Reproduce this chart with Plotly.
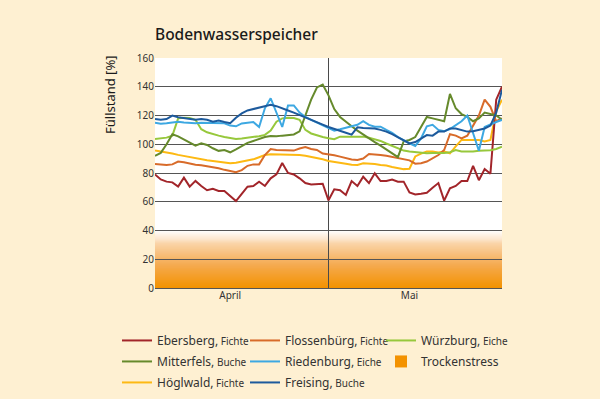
import plotly.graph_objects as go

# ---------------- data ----------------
# day index: 0 = 1 April ... 30 = 1 May ... 60 = 31 May
tage = list(range(61))
monatsgrenze = 30
monat_labels = ["April", "Mai"]
monat_label_pos = [13, 44]

ebersberg = [79, 75.5, 74, 73.5, 70.5, 76.8, 70.5, 74.5, 71, 68,
             69, 67.5, 67.5, 64, 60.5, 65.5, 70.5, 71, 73.9, 71,
             76.3, 79, 87, 80, 79, 76.3, 73, 72, 72, 72.5,
             61, 68.7, 68, 64.7, 74.4, 71, 77.4, 73, 79.8, 74.4,
             74.4, 75.5, 74, 74, 66.5, 65, 65.6, 66.3, 69.8, 73,
             60.8, 69.3, 71, 74.4, 74.4, 85, 75, 82.8, 79.5, 131, 140]
flossenbuerg = [86.3, 85.8, 85.6, 86, 88, 87.4, 86.5, 85.8, 85.4, 84.8,
                84, 83.3, 82.2, 81.2, 80.5, 82, 85, 86, 86, 92.5,
                96.7, 96, 96, 95.5, 95.6, 97, 98, 96.7, 96, 93.5,
                93, 92.3, 91.4, 90.2, 89.4, 89, 90.1, 93.2, 93, 92.6,
                92, 91.2, 90.7, 90, 88.8, 86.5, 86.8, 88, 90.5, 92.5,
                96, 107, 106, 104, 106, 113, 120, 131, 126, 116, 118]
hoeglwald = [95.6, 95, 94.3, 93.5, 92.6, 91.8, 91, 90, 89.4, 88.8,
             88.4, 88, 87.5, 86.8, 87.2, 88, 88.6, 89.5, 91, 92.5,
             93, 93, 93, 93, 92.8, 92.5, 92, 91.3, 90.5, 89.5,
             88.4, 87.6, 87, 86.5, 85.8, 85.6, 86.7, 86.7, 86.2, 85.6,
             85.2, 84.2, 83.4, 82.7, 83, 91.5, 93.5, 95, 95, 94.2,
             94.9, 93.7, 98.5, 103, 103, 103, 103, 102, 103, 123, 131]
wuerzburg = [103.7, 104.2, 104.6, 106, 118, 118.5, 118.3, 117, 110.5, 108.3,
             107, 106, 105, 104.2, 103.7, 104, 104.4, 105, 105.6, 106.5,
             109.5, 115.7, 118, 118.5, 118.3, 117, 110, 107.5, 106, 105,
             104.2, 103.5, 105.3, 105.3, 105.3, 105.3, 105.3, 104.6, 103.5, 102.3,
             100.5, 99, 97, 95.6, 94.9, 94.4, 93.8, 93.7, 93.9, 93.7,
             93.9, 94.5, 96, 95, 94.9, 94.9, 95.4, 95.6, 95.8, 96.7, 98.3]
mitterfels = [92, 94, 100, 106.9, 105.5, 103.5, 101.5, 99, 100.7, 99.5,
              97.2, 95.4, 96, 94.4, 96.5, 99, 101, 102.3, 103.7, 105,
              105.8, 105.5, 106, 106.5, 106.8, 109, 120, 131, 139.5, 141.5,
              134, 124.5, 119, 115.5, 112.5, 109.5, 106.7, 104, 101.5, 99,
              96.5, 94, 91, 102, 103, 105, 112, 119, 118, 117,
              116, 135, 125, 121, 119, 116, 118, 122, 121, 120, 117]
riedenburg = [115, 114.2, 114.6, 115.2, 115.7, 115.2, 114.8, 114.6, 115, 114.8,
              114.6, 114.6, 114.6, 113, 112.5, 114.5, 115, 115.5, 112, 125,
              132, 122, 112, 127, 127, 122, 119, 117, 115, 113,
              111.5, 109.5, 110.4, 111.5, 112.5, 113.5, 116, 113.5, 112.2, 112.2,
              110, 108, 105, 102.5, 100.6, 98.8, 104, 112.5, 113.5, 110,
              109, 110.5, 113, 116, 120, 108, 95.5, 112, 114, 115.5, 117]
freising = [117.6, 117, 117.5, 119.9, 118.8, 118.2, 117.5, 117, 117.6, 117,
            115.7, 116.5, 115.5, 114.6, 118.5, 121.5, 123.5, 124.5, 125.7, 127,
            127.5, 126.5, 125.2, 123.5, 122, 120.3, 118.3, 116.5, 115, 113.6,
            112, 110.5, 109, 108, 106.7, 111.8, 111.3, 111, 111, 110,
            108.8, 107, 105, 103, 100.6, 101.5, 104, 106.4, 106, 108.8,
            108.8, 111, 111, 110, 108.8, 109, 110, 111, 113, 122, 138]

# Trockenstress zone (Füllstand %), gradient colour stops
trockenstress_stops = [(0, (243, 146, 0)), (16, (245, 170, 80)), (31, (250, 212, 168)),
                       (34, (252, 230, 205)), (40, (255, 255, 255))]

y_ticks = [0, 20, 40, 60, 80, 100, 120, 140, 160]

# ---------------- figure ----------------
BG = "#FEF0D2"
FONT = "Noto Sans"

serien = [
    # name, art, values, colour, legend, order
    ("Ebersberg", "Fichte", ebersberg, "#A2252A", "legend", 1),
    ("Mitterfels", "Buche", mitterfels, "#668A2C", "legend", 2),
    ("Höglwald", "Fichte", hoeglwald, "#FDB913", "legend", 3),
    ("Flossenbürg", "Fichte", flossenbuerg, "#D86B2A", "legend2", 1),
    ("Riedenburg", "Eiche", riedenburg, "#3DA8E2", "legend2", 2),
    ("Freising", "Buche", freising, "#1D5A9C", "legend2", 3),
    ("Würzburg", "Eiche", wuerzburg, "#97C83C", "legend3", 1),
]

fig = go.Figure()
draw_order = ["Höglwald", "Ebersberg", "Flossenbürg", "Würzburg", "Mitterfels", "Riedenburg", "Freising"]
lookup = {s[0]: s for s in serien}
for nm in draw_order:
    name, art, vals, col, leg, rank = lookup[nm]
    fig.add_trace(go.Scatter(
        x=tage, y=vals, mode="lines",
        line=dict(color=col, width=2),
        name=f"{name},<span style='font-size:10px'> {art}</span>",
        legend=leg, legendrank=rank, legendgroup=name,
    ))

fig.add_trace(go.Scatter(
    x=[None], y=[None], mode="markers",
    marker=dict(symbol="square", size=12, color="#F39200"),
    name="Trockenstress", legend="legend3", legendrank=2, legendgroup="ts",
))

# gradient band built from the stops (nested rects, top first, each covering below)
def interp(v):
    for (a, ca), (b, cb) in zip(trockenstress_stops[:-1], trockenstress_stops[1:]):
        if a <= v <= b:
            t = (v - a) / (b - a)
            return "rgb(%d,%d,%d)" % tuple(round(ca[i] + (cb[i] - ca[i]) * t) for i in range(3))
    return "rgb(255,255,255)"

lo, hi = trockenstress_stops[0][0], trockenstress_stops[-1][0]
steps = 60
shapes = []
for i in range(steps, 0, -1):
    top = lo + (hi - lo) * i / steps
    mid = lo + (hi - lo) * (i - 0.5) / steps
    shapes.append(dict(type="rect", xref="x", yref="y", x0=tage[0], x1=tage[-1],
                       y0=lo, y1=top, fillcolor=interp(mid),
                       line=dict(width=0), layer="below"))
shapes.append(dict(type="line", xref="x", yref="y", x0=monatsgrenze, x1=monatsgrenze,
                   y0=y_ticks[0], y1=y_ticks[-1], line=dict(color="#4a4a4a", width=1),
                   layer="below"))

leg_common = dict(y=-0.165, xanchor="left", yanchor="top", bgcolor="rgba(0,0,0,0)",
                  font=dict(size=12, color="#333333"), tracegroupgap=2,
                  traceorder="grouped", itemwidth=30)

fig.update_layout(
    width=600, height=399,
    paper_bgcolor=BG, plot_bgcolor="white",
    margin=dict(l=155, r=98, t=58, b=111, autoexpand=False),
    font=dict(family=FONT, color="#333333"),
    shapes=shapes,
    title=dict(text="Bodenwasserspeicher", x=0, xref="paper", xanchor="left",
               y=1 - 35 / 399, yref="container", yanchor="middle",
               font=dict(size=15.5, color="#1a1a1a", family=FONT, weight=500)),
    xaxis=dict(range=[tage[0], tage[-1]], showgrid=False, zeroline=False,
               tickmode="array", tickvals=monat_label_pos, ticktext=monat_labels,
               ticks="", tickfont=dict(size=10, color="#333333"), showline=False,
               automargin=False),
    yaxis=dict(range=[y_ticks[0], y_ticks[-1]], tickmode="array", tickvals=y_ticks,
               showgrid=True, gridcolor="#555555", gridwidth=1,
               zeroline=True, zerolinecolor="#555555", zerolinewidth=1,
               ticks="", tickfont=dict(size=10, color="#333333"), showline=False,
               automargin=False),
    annotations=[dict(text="Füllstand [%]", textangle=-90, xref="paper", yref="paper",
                      x=(110 - 155) / 347, y=(288 - 95) / 230, xanchor="center", yanchor="middle",
                      showarrow=False, font=dict(size=13, color="#1a1a1a"))],
    legend=dict(x=(117 - 155) / 347, **leg_common),
    legend2=dict(x=(245 - 155) / 347, **leg_common),
    legend3=dict(x=(381 - 155) / 347, **leg_common),
    showlegend=True,
)

fig.write_html(
    "out.html",
    config={"displayModeBar": False},
    post_script="document.body.style.margin='0px';document.body.style.background='%s';"
                "document.documentElement.style.background='%s';" % (BG, BG),
)
